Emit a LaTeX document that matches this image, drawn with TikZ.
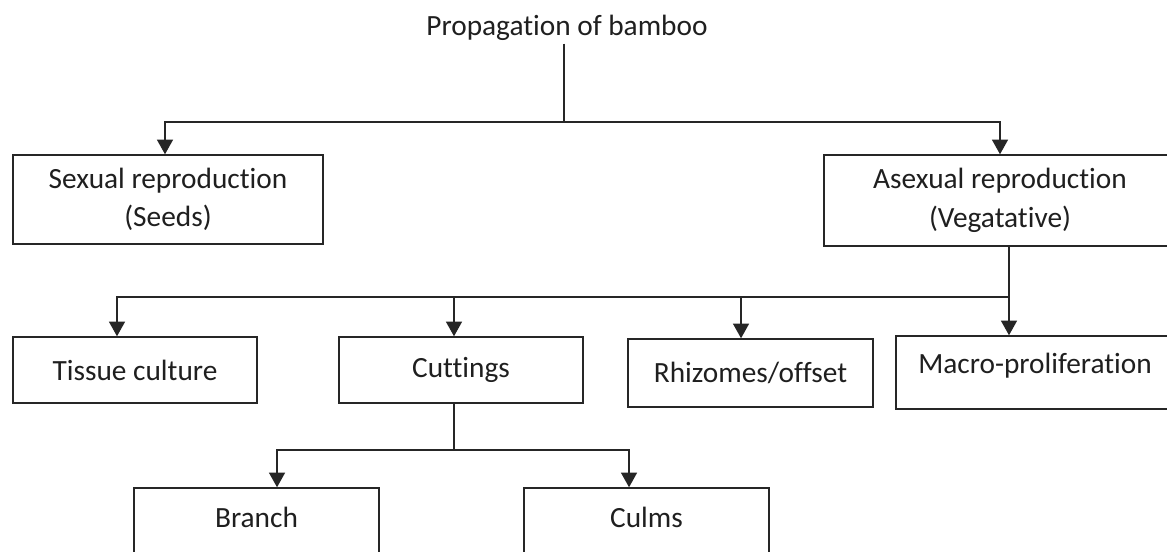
\documentclass[tikz,border=0pt]{standalone}
\usepackage{fontspec}
\setmainfont{Carlito}[Ligatures={NoCommon}]
\usetikzlibrary{arrows.meta}
\begin{document}
\begin{tikzpicture}[x=0.75pt,y=-0.75pt,
  every node/.style={font=\fontsize{22}{29}\selectfont, text=black!88},
  box/.style={draw=black!85, line width=1.1pt, inner sep=0pt, align=center},
  conn/.style={draw=black!85, line width=1.1pt},
  arr/.style={conn, -{Triangle[width=12pt,length=11pt]}}]
\clip (0,0) rectangle (1167,552);
\fill[white] (0,0) rectangle (1167,552);

\node[inner sep=2pt] (title) at (567,28) {Propagation of bamboo};

\node[box, minimum width=232.5pt, minimum height=66.75pt] (sex) at (168,199.5) {Sexual reproduction\\(Seeds)};
\node[box, minimum width=264pt, minimum height=68.25pt] (asex) at (1000,200.5) {Asexual reproduction\\(Vegatative)};

\node[box, minimum width=183pt, minimum height=49.5pt] (tissue) at (135,370) {Tissue culture};
\node[box, minimum width=183pt, minimum height=49.5pt] (cut) at (461,370) {Cuttings};
\node[box, minimum width=183.75pt, minimum height=51pt] (rhiz) at (750.5,373) {Rhizomes/offset};
\node[box, minimum width=208.5pt, minimum height=54.75pt] (macro) at (1035,372.5) {};
\node (macrot) at (1035,366) {Macro-proliferation};

\node[box, minimum width=183.75pt, minimum height=61.5pt] (branch) at (256.5,529) {};
\node (brancht) at (256.5,517) {Branch};
\node[box, minimum width=183.75pt, minimum height=61.5pt] (culms) at (646.5,529) {};
\node (culmst) at (646.5,517) {Culms};

\coordinate (j1) at (564,122);
\draw[conn] (title.south -| j1) -- (j1);
\draw[arr] (j1) -| ([xshift=-2.25pt]sex.north);
\draw[arr] (j1) -| (asex.north);

\coordinate (j2) at (1009,297);
\draw[conn] (asex.south -| j2) -- (j2);
\draw[arr] (j2) -| ([xshift=-13.5pt]tissue.north);
\draw[arr] (j2) -| ([xshift=-5.25pt]cut.north);
\draw[arr] (j2) -| ([xshift=-7.1pt]rhiz.north);
\draw[arr] (j2) -- (j2 |- macro.north);

\coordinate (j3) at (454,450);
\draw[conn] (cut.south -| j3) -- (j3);
\draw[arr] (j3) -| ([xshift=15.4pt]branch.north);
\draw[arr] (j3) -| ([xshift=-13.1pt]culms.north);
\end{tikzpicture}
\end{document}
